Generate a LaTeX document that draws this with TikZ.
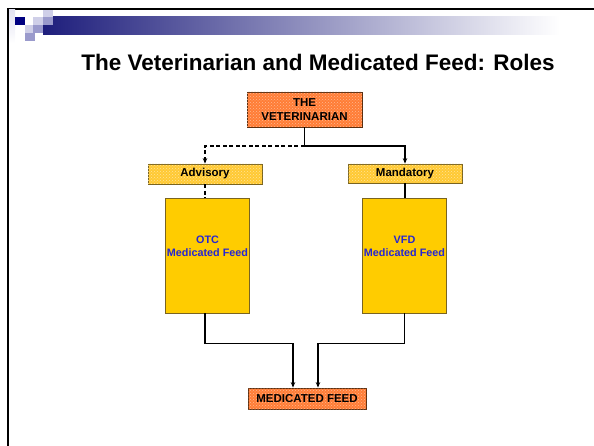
\documentclass[tikz,border=0pt]{standalone}
\usepackage{fontspec}
\setmainfont{Liberation Sans}
\usetikzlibrary{positioning, patterns, arrows.meta}

\definecolor{vetorange}{HTML}{FF7D36}
\definecolor{roleyellow}{HTML}{FFC933}
\definecolor{feedgold}{HTML}{FFCC00}
\definecolor{brownedge}{HTML}{5A2E10}
\definecolor{goldedge}{HTML}{7A6420}
\definecolor{navy}{HTML}{000080}
\definecolor{barblue}{HTML}{1E1E7C}
\definecolor{sqlight}{HTML}{CFCFE8}
\definecolor{sqmid}{HTML}{9A9ACC}
\definecolor{feedblue}{HTML}{2626D2}

\tikzset{
  orangebox/.style={draw=brownedge, line width=0.8pt, fill=vetorange,
    postaction={pattern=crosshatch dots, pattern color=vetorange!55!white},
    font=\bfseries\fontsize{11.5}{13.5}\selectfont, align=center, inner sep=0pt},
  rolebox/.style={draw=goldedge, line width=0.8pt, fill=roleyellow,
    postaction={pattern=crosshatch dots, pattern color=roleyellow!50!white},
    font=\bfseries\fontsize{11.5}{13}\selectfont, minimum width=114pt, minimum height=20pt, inner sep=0pt},
  feedbox/.style={draw=goldedge, line width=0.8pt, fill=feedgold,
    minimum width=84pt, minimum height=115pt, inner sep=0pt},
  feedtext/.style={text=feedblue, font=\bfseries\fontsize{10.8}{13}\selectfont,
    align=center, yshift=9pt},
  link/.style={line width=1.6pt, -{Stealth[length=5.5pt,width=4.5pt]}},
  wire/.style={line width=1.6pt},
  longdash/.style={dash pattern=on 4pt off 2.5pt}
}

\begin{document}
\begin{tikzpicture}[x=1pt,y=-1pt]
\useasboundingbox (0,0) rectangle (594,446);
% slide frame and header
\draw[line width=2pt] (7.5,446) -- (7.5,9) -- (594,9);
\shade[top color=sqlight!60, bottom color=white] (9,10) rectangle (15,43);
\shade[left color=barblue, right color=white] (43,17) rectangle (560,35);
\foreach \x/\y/\c in {15/17/navy, 33/17/sqlight, 43/10/sqlight, 43/17/sqmid,
  25/25/sqlight, 33/25/sqmid, 25/33/sqmid} {
  \fill[\c] (\x,\y) rectangle ++(9.5,8);
}
\fill[white] (25,17) rectangle ++(8,8);
\node[font=\bfseries\fontsize{22.5}{26}\selectfont] (title) at (318,62)
  {The Veterinarian and Medicated Feed: Roles};

% boxes
\node[orangebox, minimum width=115pt, minimum height=35pt] (vet) at (304.5,109.5) {THE\\VETERINARIAN};
\node[rolebox] (adv) at (205,174) {Advisory};
\node[rolebox, minimum height=19pt] (man) at (405,173.5) {Mandatory};
\node[feedbox, label={[feedtext]center:OTC\\Medicated Feed}] (otc) at (207.5,255.5) {};
\node[feedbox, label={[feedtext]center:VFD\\Medicated Feed}] (vfd) at (404.5,255.5) {};
\node[orangebox, minimum width=118pt, minimum height=21pt] (med) at (307,398.5) {MEDICATED FEED};

% connectors
\coordinate (fork) at (304.5,146);
\coordinate (otcbend) at (205,343.5);
\coordinate (vfdbend) at (404.5,343.5);
\draw[wire] (vet.south) -- (fork);
\draw[link] (fork) -| (man.north);
\draw[link, longdash] (fork) -| (adv.north);
\draw[wire, longdash] (adv.south) -- (adv.south |- otc.north);
\draw[wire] (man.south) -- (man.south |- vfd.north);
\draw[link] (otc.south -| otcbend) -- (otcbend) -| ([xshift=-14pt]med.north);
\draw[link] (vfd.south) -- (vfdbend) -| ([xshift=11pt]med.north);
\end{tikzpicture}
\end{document}
